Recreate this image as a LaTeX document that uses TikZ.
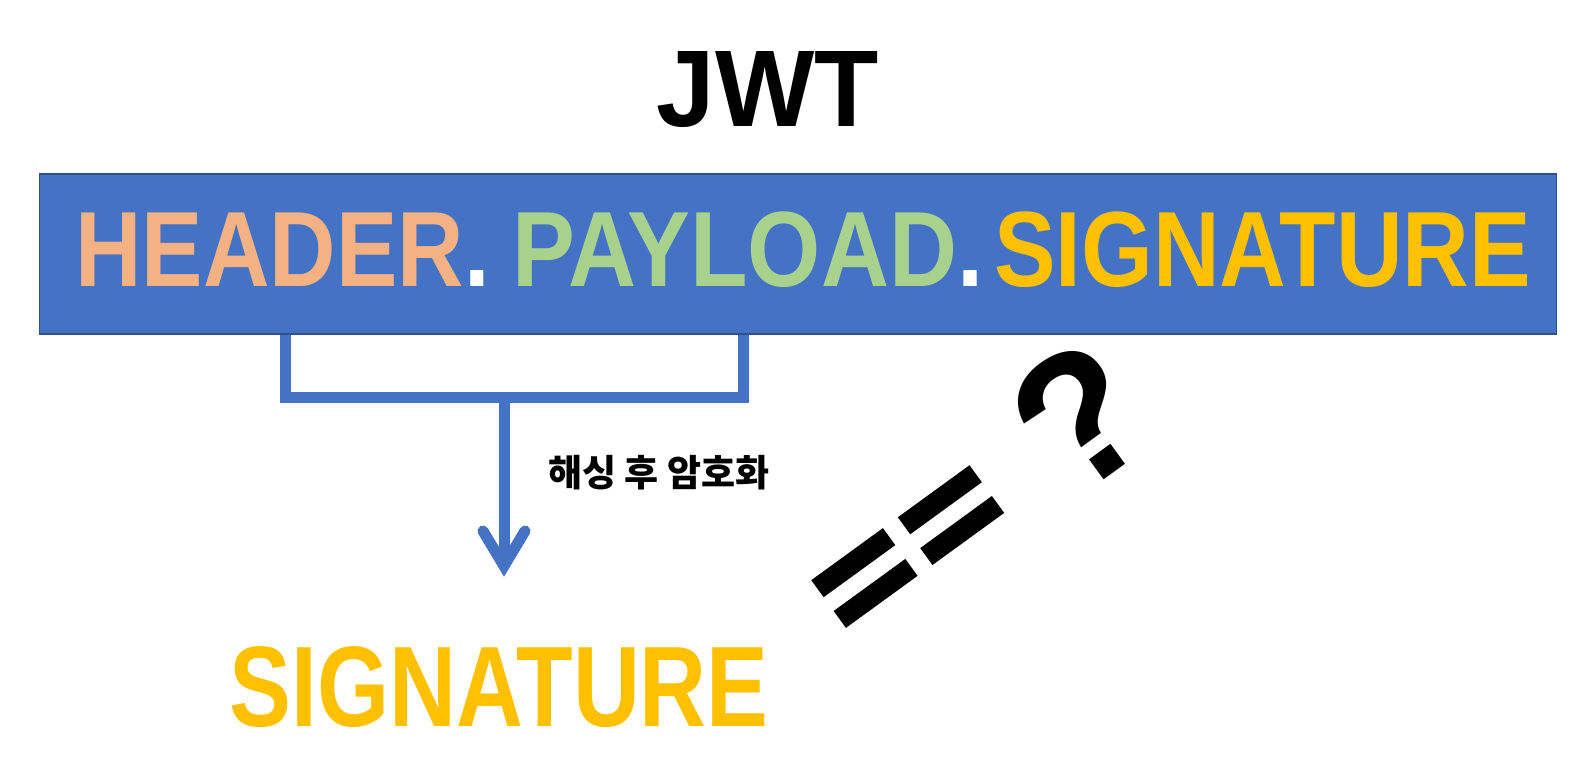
\documentclass[tikz,border=0pt]{standalone}
\usepackage{fontspec}
\setmainfont{Liberation Sans}
\newfontfamily\cjk{Noto Sans CJK KR}
\newfontfamily\heavy{Liberation Sans}[BoldFeatures={FakeBold=4}]
\usepackage{graphicx}
\usetikzlibrary{backgrounds}
\definecolor{boxblue}{HTML}{4472C4}
\definecolor{boxborder}{HTML}{2F528F}
\definecolor{salmon}{HTML}{F4B183}
\definecolor{leaf}{HTML}{A9D18E}
\definecolor{gold}{HTML}{FFC000}
\tikzset{
  word/.style={inner sep=0pt, outer sep=0pt, anchor=base west, font=\bfseries},
  conn/.style={draw=boxblue, line width=11pt, line join=miter},
}
\newcommand{\eqbar}{\scalebox{0.87}[0.75]{=}}
\begin{document}
\begin{tikzpicture}[x=1pt,y=-1pt]
\useasboundingbox (0,0) rectangle (1569,759);
% title
\node[word, anchor=base] (jwt) at (768,127) {\scalebox{0.965}[1]{\fontsize{109}{109}\selectfont JWT}};
% box
\node[draw=boxborder, fill=boxblue, line width=1.5pt, minimum width=1517pt, minimum height=160pt, inner sep=0pt, anchor=north west] (box) at (38.5,173.5) {};
% connectors
\coordinate (hl) at (285,397.5);
\coordinate (hr) at (743,397.5);
\coordinate (hm) at (504,397.5);
\coordinate (tip) at (504,566);
\begin{scope}[on background layer]
\draw[conn] (box.south -| hl) -- (hl) -- (hr) -- (box.south -| hr);
\end{scope}
\draw[conn] (hm) -- (tip);
\draw[conn, line cap=round] ([shift={(-21,-35)}]tip) -- (tip) -- ([shift={(21,-35)}]tip);
% words in the box
\node[word, text=salmon] (header) at (75.5,287) {\scalebox{0.86}[1]{\fontsize{107}{107}\selectfont HEADER\textcolor{white}{.}}};
\node[word, text=leaf] (payload) at (512.5,287) {\scalebox{0.88}[1]{\fontsize{107}{107}\selectfont PAYLOAD\textcolor{white}{.}}};
\node[word, text=gold] (sig) at (994,287) {\scalebox{0.863}[1]{\fontsize{107}{107}\selectfont SIGNATURE}};
% label
\node[inner sep=0pt] (lab) at (659,473) {\cjk\bfseries\fontsize{37}{37}\selectfont 해싱 후 암호화};
% result
\node[word, text=gold] (sig2) at (229.5,726) {\scalebox{0.81}[1]{\fontsize{114.5}{114.5}\selectfont SIGNATURE}};
% == ?
\node[word, rotate=36] (eq) at (862,656) {\fontsize{188}{188}\selectfont{\heavy\bfseries\raisebox{15pt}{\eqbar\hspace{11.5pt}\eqbar}}\hspace{57pt}?};
\end{tikzpicture}
\end{document}
